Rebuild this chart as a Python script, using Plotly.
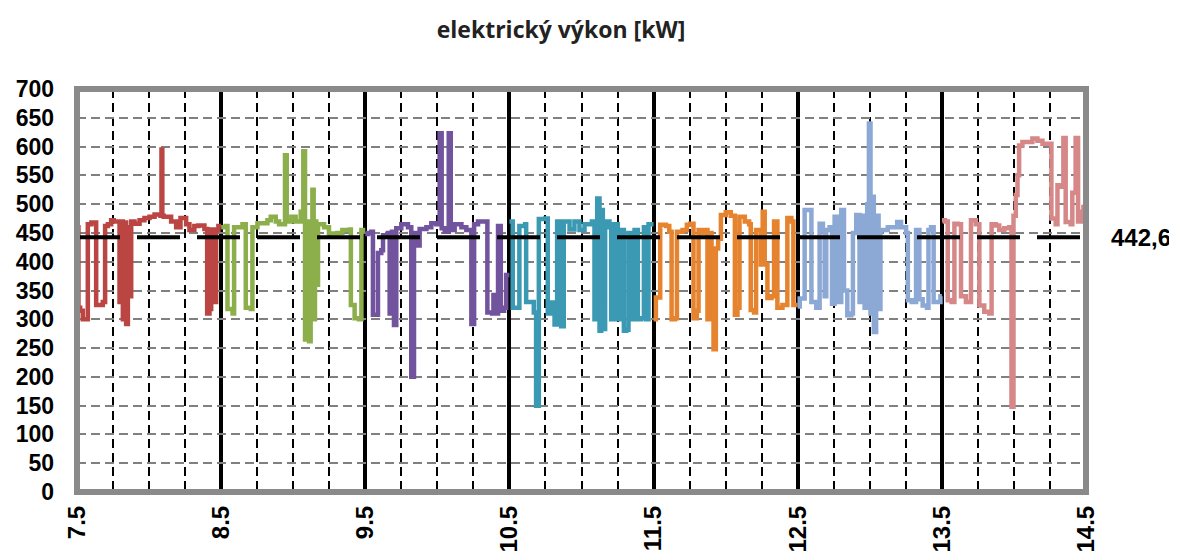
import plotly.graph_objects as go

# ---------------- data ----------------
title_text = "elektrický výkon [kW]"
x_ticks = [7.5, 8.5, 9.5, 10.5, 11.5, 12.5, 13.5, 14.5]
x_tick_labels = ["7.5", "8.5", "9.5", "10.5", "11.5", "12.5", "13.5", "14.5"]
mean_value = 442.6
mean_label = "442,6"

x_red = [7.500, 7.510, 7.522, 7.540, 7.575, 7.600, 7.633, 7.679, 7.695, 7.714, 7.737, 7.755,
         7.795, 7.806, 7.818, 7.829, 7.841, 7.853, 7.864, 7.876, 7.899, 7.934, 7.968, 8.003,
         8.038, 8.079, 8.086, 8.092, 8.102, 8.153, 8.188, 8.218, 8.257, 8.280, 8.314, 8.342,
         8.384, 8.403, 8.419, 8.431, 8.449, 8.465, 8.481, 8.500]
y_red = [460, 320, 315, 300, 465, 468, 325, 330, 462, 465, 472, 470,
         330, 470, 300, 468, 292, 460, 340, 470, 466, 472, 476, 478,
         482, 480, 595, 480, 478, 470, 460, 476, 465, 455, 462, 463,
         457, 310, 318, 456, 330, 455, 462, 462]

x_green = [8.500, 8.532, 8.544, 8.579, 8.590, 8.648, 8.671, 8.706, 8.717, 8.752, 8.821, 8.844,
           8.879, 8.902, 8.943, 8.955, 8.987, 9.017, 9.052, 9.070, 9.082, 9.098, 9.110, 9.121,
           9.133, 9.142, 9.151, 9.160, 9.172, 9.214, 9.248, 9.306, 9.341, 9.394, 9.400, 9.426,
           9.456, 9.473, 9.500]
y_green = [460, 462, 318, 310, 460, 465, 320, 318, 460, 467, 472, 478,
           470, 465, 585, 470, 478, 470, 487, 592, 265, 470, 262, 468,
           525, 300, 470, 360, 465, 460, 449, 450, 455, 456, 325, 302,
           300, 455, 455]

x_purple = [9.500, 9.519, 9.542, 9.553, 9.588, 9.611, 9.623, 9.657, 9.669, 9.685, 9.699, 9.715,
            9.750, 9.796, 9.819, 9.838, 9.854, 9.877, 9.924, 9.958, 9.993, 10.016, 10.030, 10.051,
            10.079, 10.093, 10.120, 10.167, 10.201, 10.236, 10.255, 10.282, 10.329, 10.347, 10.380,
            10.389, 10.403, 10.421, 10.440, 10.463, 10.477, 10.500]
y_purple = [448, 450, 452, 308, 415, 420, 446, 450, 310, 452, 290, 458,
            465, 460, 200, 450, 428, 457, 460, 467, 465, 623, 458, 452,
            623, 455, 465, 460, 455, 292, 465, 470, 470, 312, 310,
            342, 310, 462, 315, 320, 377, 377]

x_teal = [10.500, 10.523, 10.563, 10.569, 10.609, 10.616, 10.655, 10.669, 10.685, 10.704, 10.748,
          10.766, 10.789, 10.813, 10.831, 10.859, 10.877, 10.917, 10.951, 10.986, 11.021, 11.072,
          11.090, 11.109, 11.125, 11.137, 11.148, 11.164, 11.194, 11.206, 11.225, 11.252, 11.275,
          11.294, 11.310, 11.326, 11.345, 11.368, 11.391, 11.414, 11.433, 11.449, 11.465, 11.500]
y_teal = [470, 320, 320, 462, 465, 330, 330, 312, 150, 474, 475,
          310, 329, 291, 470, 288, 470, 456, 470, 455, 465, 470,
          300, 510, 280, 490, 283, 470, 460, 300, 465, 300, 455,
          280, 282, 450, 300, 455, 300, 302, 460, 300, 465, 465]

x_orange = [11.500, 11.516, 11.546, 11.586, 11.609, 11.625, 11.648, 11.662, 11.701, 11.731, 11.754,
            11.777, 11.800, 11.812, 11.840, 11.856, 11.874, 11.888, 11.902, 11.916, 11.932, 11.948,
            11.967, 12.001, 12.036, 12.064, 12.082, 12.096, 12.133, 12.163, 12.174, 12.197, 12.211,
            12.244, 12.257, 12.271, 12.290, 12.318, 12.336, 12.359, 12.394, 12.428, 12.456, 12.470,
            12.500]
y_orange = [300, 338, 464, 462, 452, 300, 302, 452, 455, 464, 466,
            302, 315, 455, 450, 455, 300, 450, 320, 248, 423, 440,
            481, 486, 480, 308, 320, 478, 470, 465, 316, 312, 455,
            395, 487, 395, 337, 340, 470, 320, 325, 476, 470, 325,
            325]

x_blue = [12.500, 12.514, 12.548, 12.583, 12.595, 12.629, 12.652, 12.675, 12.687, 12.698, 12.721,
          12.738, 12.756, 12.779, 12.802, 12.821, 12.844, 12.871, 12.883, 12.906, 12.929, 12.945,
          12.964, 12.982, 12.994, 13.005, 13.017, 13.028, 13.044, 13.061, 13.074, 13.125, 13.160,
          13.190, 13.217, 13.252, 13.264, 13.291, 13.321, 13.344, 13.367, 13.397, 13.407, 13.425,
          13.443, 13.471, 13.490, 13.500]
y_blue = [322, 336, 490, 490, 330, 320, 466, 455, 340, 455, 460,
          327, 478, 330, 490, 350, 307, 310, 450, 481, 330, 480,
          320, 500, 640, 310, 513, 278, 480, 318, 455, 460, 460,
          469, 460, 450, 333, 330, 455, 335, 324, 320, 455, 460,
          330, 330, 340, 340]

x_pink = [13.501, 13.522, 13.541, 13.568, 13.587, 13.610, 13.633, 13.667, 13.702, 13.736, 13.760,
          13.794, 13.829, 13.845, 13.875, 13.898, 13.933, 13.967, 13.983, 13.997, 14.013, 14.025,
          14.036, 14.059, 14.094, 14.128, 14.163, 14.198, 14.244, 14.260, 14.290, 14.302, 14.325,
          14.343, 14.359, 14.394, 14.405, 14.428, 14.445, 14.464, 14.482, 14.500]
y_pink = [472, 470, 333, 330, 466, 465, 340, 330, 472, 465, 324,
          313, 310, 465, 463, 455, 458, 460, 148, 480, 516, 550,
          602, 608, 608, 614, 610, 605, 605, 475, 465, 533, 530,
          615, 469, 465, 520, 615, 470, 487, 495, 490]

series = [
    (x_red, y_red, "#BB4542"),
    (x_green, y_green, "#8CAF4B"),
    (x_purple, y_purple, "#72539E"),
    (x_teal, y_teal, "#3C99B4"),
    (x_orange, y_orange, "#E5832F"),
    (x_blue, y_blue, "#8CA8D5"),
    (x_pink, y_pink, "#D68888"),
]

# ---------------- figure ----------------
# the page body adds an 8px offset, so the figure is 8px smaller and margins compensate
W, H = 1169, 552
fig = go.Figure()
for xs, ys, col in series:
    fig.add_trace(go.Scatter(x=xs, y=ys, mode="lines", line=dict(color=col, width=4.5, shape="hv"),
                             showlegend=False, hoverinfo="skip"))

fig.add_trace(go.Scatter(x=[x_ticks[0], x_ticks[-1]], y=[mean_value, mean_value], mode="lines",
                         line=dict(color="black", width=4, dash="43px,17px"),
                         showlegend=False, hoverinfo="skip"))

fig.update_layout(
    width=W, height=H,
    margin=dict(l=69, r=91, t=81, b=68, autoexpand=False),
    paper_bgcolor="white", plot_bgcolor="white",
    title=dict(text=title_text, x=553 / W, xanchor="center", xref="container",
               y=1 - 22 / H, yanchor="middle", yref="container",
               font=dict(family="Open Sans", size=23, color="#222222", weight="bold")),
)

fig.update_xaxes(
    range=[x_ticks[0], x_ticks[-1]], automargin=False,
    tickmode="array", tickvals=x_ticks, ticktext=x_tick_labels,
    tickangle=-90, tickfont=dict(family="Liberation Sans", size=24, color="black", weight="bold"),
    ticks="", ticklabelstandoff=8,
    showgrid=True, gridcolor="black", gridwidth=4,
    minor=dict(tick0=7.5, dtick=0.25, showgrid=True, gridcolor="black", gridwidth=2,
               griddash="9px,5px"),
    zeroline=False, showline=False,
)
fig.update_yaxes(
    range=[0, 700], dtick=50, tick0=0, automargin=False,
    tickfont=dict(family="Liberation Sans", size=23, color="black", weight="bold"),
    ticks="", ticklabelstandoff=22,
    showgrid=True, gridcolor="#808080", gridwidth=2, griddash="9px,5px",
    zeroline=False, showline=False,
)

fig.add_shape(type="rect", xref="paper", yref="paper", x0=0, x1=1, y0=0, y1=1,
              line=dict(color="#8A8A8A", width=6), layer="above")

fig.add_annotation(text=mean_label, xref="paper", yref="y", x=(1141 - 77) / (1086 - 77), y=mean_value,
                   xanchor="center", yanchor="middle", showarrow=False,
                   font=dict(family="Liberation Sans", size=24, color="black", weight="bold"))

fig.write_html("out.html")
